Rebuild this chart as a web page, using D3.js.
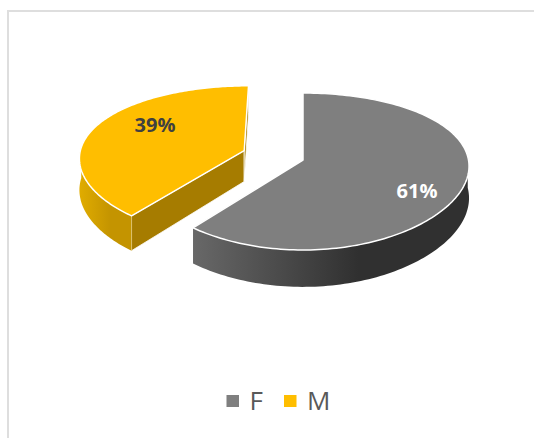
<!DOCTYPE html>
<html><head><meta charset="utf-8">
<script src="https://cdn.jsdelivr.net/npm/d3@7"></script>
<style>html,body{margin:0;padding:0;background:#fff}svg{display:block}</style>
</head><body><div id="c"></div>
<script>
const categories = ["F","M"];
const shareValues = [60.7,39.3];
const explosion = [0,0.38];
const seriesTopColors = ["#7F7F7F","#FFBE00"];
const seriesWallColors = [["#686868","#303030"],["#E0AC00","#C49400"]];
const seriesCutColors = ["#5c5c5c","#A67C00"];
const labelColors = ["#FFFFFF","#404040"];

const W=534,H=438;
const cx=303,cy=160,kx=165.5,ky=76.8,perspY=0.1465,perspX=0.08,depth=31.5;
const svg=d3.select("#c").append("svg").attr("width",W).attr("height",H);
const defs=svg.append("defs");

svg.append("rect").attr("x",8).attr("y",11).attr("width",W+20).attr("height",H+20)
  .attr("fill","#fff").attr("stroke","#DEDEDE").attr("stroke-width",2);

const pie=d3.pie().sort(null).value(d=>d);
const arcs=pie(shareValues);

// World to screen: tilted disc with a simple perspective division
const scaleU=d3.scaleLinear().domain([0,1]).range([0,kx]);
const scaleV=d3.scaleLinear().domain([0,1]).range([0,ky]);
function project(u,v,z){
  const wy=1-perspY*v, wx=1-perspX*v;
  return [cx+scaleU(u)/wx, cy+(scaleV(v)+z*depth)/wy];
}
function slicePoints(a,i){
  const mid=(a.startAngle+a.endAngle)/2;
  const ou=explosion[i]*Math.sin(mid), ov=-explosion[i]*Math.cos(mid);
  const at=(t,r,z)=>project(ou+r*Math.sin(t),ov-r*Math.cos(t),z);
  const ts=d3.range(0,161).map(j=>a.startAngle+(a.endAngle-a.startAngle)*j/160);
  return {at,ts,mid};
}
const line=d3.line();

function drawSlice(a,i){
  const s=slicePoints(a,i);
  const g=svg.append("g");
  const rim=s.ts.map(t=>s.at(t,1,0));
  const apex=s.at(0,0,0), apexB=s.at(0,0,1);
  // cut walls
  [a.startAngle,a.endAngle].forEach(t=>{
    const p0=s.at(t,1,0),p1=s.at(t,1,1);
    g.append("path").attr("d",line([apex,p0,p1,apexB])+"Z")
      .attr("fill",seriesCutColors[i]).attr("stroke","#fff").attr("stroke-width",0.8).attr("stroke-linejoin","round");
  });
  // outer wall: only the part facing the viewer
  const front=s.ts.filter(t=>Math.cos(t)<0.05);
  if(front.length){
    const gid="wall"+i;
    const xs=front.map(t=>s.at(t,1,0)[0]);
    const gr=defs.append("linearGradient").attr("id",gid).attr("gradientUnits","userSpaceOnUse")
      .attr("x1",d3.min(xs)).attr("x2",d3.max(xs)).attr("y1",0).attr("y2",0);
    gr.append("stop").attr("offset",0).attr("stop-color",seriesWallColors[i][0]);
    gr.append("stop").attr("offset",0.6).attr("stop-color",seriesWallColors[i][1]);
    gr.append("stop").attr("offset",1).attr("stop-color",seriesWallColors[i][1]);
    const topE=front.map(t=>s.at(t,1,0)), botE=front.map(t=>s.at(t,1,1)).reverse();
    g.append("path").attr("d",line(topE.concat(botE))+"Z").attr("fill","url(#"+gid+")");
  }
  // top
  g.append("path").attr("d",line([apex].concat(rim))+"Z")
    .attr("fill",seriesTopColors[i]).attr("stroke","#fff").attr("stroke-width",1.5).attr("stroke-linejoin","round");
}
// back slice first
drawSlice(arcs[1],1);
drawSlice(arcs[0],0);

// labels
const labelPos=[[417,191],[155,125]];
arcs.forEach((a,i)=>{
  svg.append("text").attr("x",labelPos[i][0]).attr("y",labelPos[i][1]).attr("text-anchor","middle").attr("dy","0.35em")
    .attr("font-family","'Open Sans',sans-serif").attr("font-weight",700).attr("font-size",20)
    .attr("fill",labelColors[i]).text(d3.format(".0f")(shareValues[i])+"%");
});

// legend
const lx=d3.scalePoint().domain(categories).range([232.5,290]);
categories.forEach((c,i)=>{
  svg.append("rect").attr("x",lx(c)-6).attr("y",395).attr("width",12.5).attr("height",12).attr("fill",seriesTopColors[i]);
  svg.append("text").attr("x",lx(c)+17).attr("y",410).attr("font-family","'Open Sans',sans-serif")
    .attr("font-size",26).attr("fill","#595959").text(c);
});
</script></body></html>
